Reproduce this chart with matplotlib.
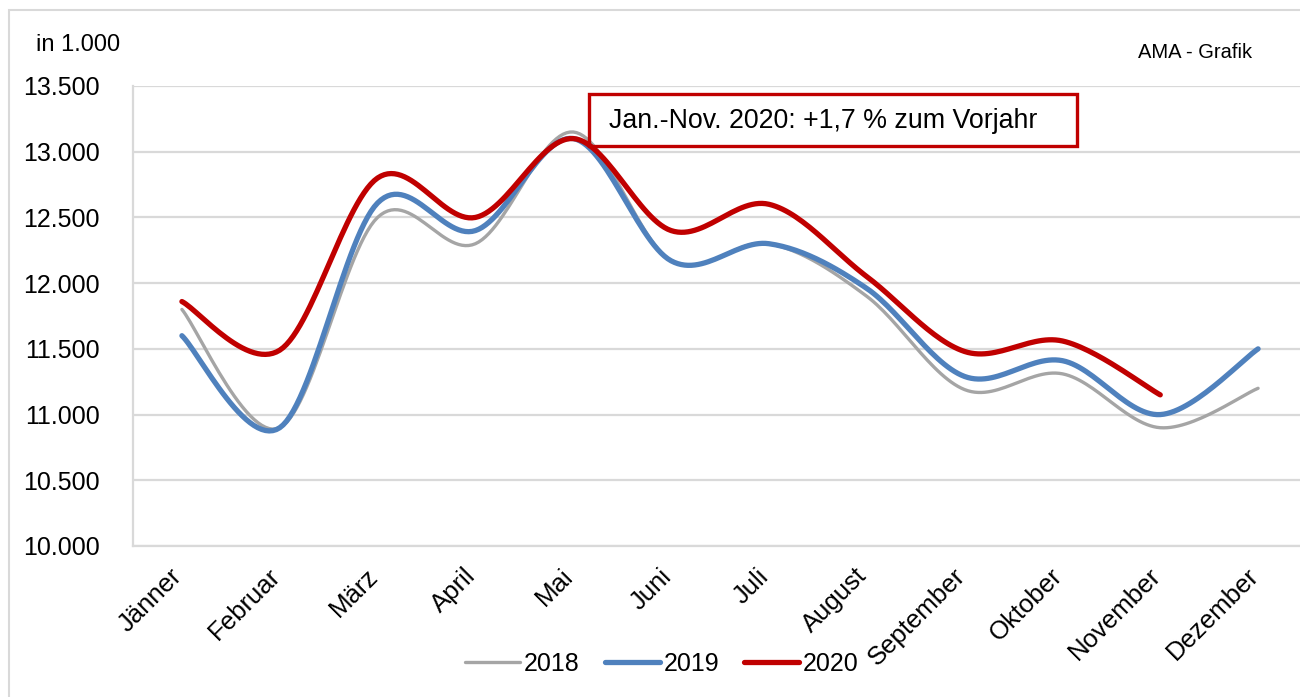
import matplotlib.pyplot as plt
import matplotlib.transforms as mtransforms
import numpy as np
from matplotlib.ticker import FuncFormatter
from matplotlib.patches import Rectangle

plt.rcParams['font.family'] = ['Liberation Sans', 'DejaVu Sans']

months = ['Jänner', 'Februar', 'März', 'April', 'Mai', 'Juni', 'Juli',
          'August', 'September', 'Oktober', 'November', 'Dezember']
v2018 = [11800, 10900, 12500, 12300, 13150, 12170, 12300, 11900, 11190, 11310, 10900, 11200]
v2019 = [11600, 10900, 12610, 12400, 13100, 12170, 12300, 11960, 11290, 11410, 11000, 11500]
v2020 = [11860, 11490, 12800, 12500, 13100, 12400, 12600, 12050, 11480, 11560, 11150]

colors = {'2018': '#A5A5A5', '2019': '#4F81BD', '2020': '#C00000'}
widths = {'2018': 2.4, '2019': 3.8, '2020': 3.8}


def smooth(y, n=30):
    # Excel-like smoothed line (Catmull-Rom through the data points)
    y = np.asarray(y, dtype=float)
    x = np.arange(len(y), dtype=float)
    p = np.concatenate([[y[0]], y, [y[-1]]])
    px = np.concatenate([[x[0]], x, [x[-1]]])
    xs, ys = [], []
    t = np.linspace(0, 1, n)
    for i in range(1, len(p) - 2):
        for arr, out in ((px, xs), (p, ys)):
            p0, p1, p2, p3 = arr[i - 1], arr[i], arr[i + 1], arr[i + 2]
            c1 = p1 + (p2 - p0) / 6
            c2 = p2 - (p3 - p1) / 6
            out.extend((1 - t) ** 3 * p1 + 3 * (1 - t) ** 2 * t * c1
                       + 3 * (1 - t) * t ** 2 * c2 + t ** 3 * p2)
    return np.array(xs), np.array(ys)


fig = plt.figure(figsize=(13, 6.97), dpi=100)
fig.patches.append(Rectangle((9 / 1300, -0.1), 1.2, 1 - 10 / 697 + 0.1,
                             transform=fig.transFigure, fill=False,
                             edgecolor='#D9D9D9', linewidth=1.5))
ax = fig.add_axes([133 / 1300, 1 - 546 / 697, 1174 / 1300, 460 / 697])

for label, vals in (('2018', v2018), ('2019', v2019), ('2020', v2020)):
    xs, ys = smooth(vals)
    ax.plot(xs, ys, color=colors[label], linewidth=widths[label],
            solid_capstyle='round', label=label)

ax.set_xlim(-0.5, 11.5)
ax.set_ylim(10000, 13500)
ax.set_yticks(np.arange(10000, 13501, 500))
ax.yaxis.set_major_formatter(FuncFormatter(lambda v, _: f'{int(v):,}'.replace(',', '.')))
ax.set_xticks(range(len(months)))
ax.set_xticklabels(months, rotation=45, ha='right', rotation_mode='anchor')
ax.tick_params(axis='x', length=0, labelsize=18.5, pad=10)
ax.tick_params(axis='y', length=0, labelsize=18, pad=24)
shift = mtransforms.ScaledTranslation(-12 / 100, -4 / 100, fig.dpi_scale_trans)
for lbl in ax.get_xticklabels():
    lbl.set_transform(lbl.get_transform() + shift)
ax.grid(axis='y', color='#D9D9D9', linewidth=1.6)
ax.set_axisbelow(True)
for s in ('top', 'right'):
    ax.spines[s].set_visible(False)
ax.spines['left'].set_color('#D9D9D9')
ax.spines['left'].set_linewidth(1.6)
ax.spines['bottom'].set_color('#D9D9D9')
ax.spines['bottom'].set_linewidth(1.6)

fig.text(36 / 1300, 1 - 45 / 697, 'in 1.000', fontsize=17, va='center')
fig.text(1252 / 1300, 1 - 52 / 697, 'AMA - Grafik', fontsize=14.5, ha='right', va='center')

fig.text(609 / 1300, 1 - 121 / 697, 'Jan.-Nov. 2020: +1,7 % zum Vorjahr',
         fontsize=19.3, va='center', ha='left')
fig.patches.append(Rectangle((589 / 1300, 1 - 146 / 697), 488 / 1300, 52 / 697,
                             transform=fig.transFigure, fill=False,
                             edgecolor='#C00000', linewidth=2.4))

fig.legend(loc='center', bbox_to_anchor=(662 / 1300, 1 - 664 / 697), ncol=3,
           frameon=False, fontsize=18, handlelength=2.2, handletextpad=0.15,
           columnspacing=1.0)

fig.savefig('out.png', dpi=100)
